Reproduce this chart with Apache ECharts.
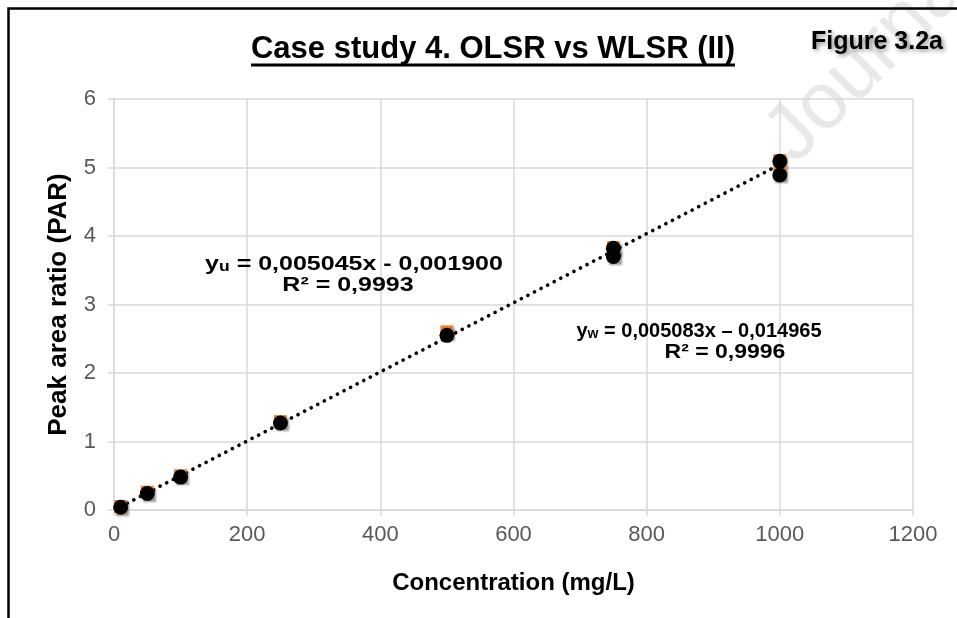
<!DOCTYPE html>
<html>
<head>
<meta charset="utf-8">
<script src="https://cdn.jsdelivr.net/npm/echarts@6/dist/echarts.min.js"></script>
<style>
  html, body { margin: 0; padding: 0; background: #fff; }
  #chart { width: 957px; height: 618px; }
</style>
</head>
<body>
<div id="chart"></div>
<script>
// data
const conc = [10, 50, 100, 250, 500, 750, 750, 1000, 1000]
const parOlsr = [0.05, 0.26, 0.50, 1.29, 2.60, 3.83, 3.72, 5.10, 4.91]
const parWlsr = [0.04, 0.24, 0.48, 1.27, 2.55, 3.82, 3.70, 5.09, 4.89]
// trend line end points
const trendX = [10, 1000]
const trendY = [0.049, 5.043]
// tick labels
const xTicks = [0, 200, 400, 600, 800, 1000, 1200]
const yTicks = [0, 1, 2, 3, 4, 5, 6]

const FONT = "'Liberation Sans', Arial, sans-serif"
const GRID = '#d9d9d9'

const pairs = (xs, ys) => xs.map((x, i) => [x, ys[i]])

const axisBase = {
  type: 'value',
  axisLine: { show: true, lineStyle: { color: GRID, width: 1.5 } },
  axisTick: { show: true, length: 6, lineStyle: { color: GRID, width: 1.5 } },
  splitLine: { show: true, lineStyle: { color: GRID, width: 1.5 } },
  nameLocation: 'middle'
}

const eqRich = {
  b: { fontSize: 20, fontWeight: 'bold', fontFamily: FONT, fill: '#000', lineHeight: 26, verticalAlign: 'bottom' },
  s: { fontSize: 14, fontWeight: 'bold', fontFamily: FONT, fill: '#000', lineHeight: 14, verticalAlign: 'bottom' }
}

const chart = echarts.init(document.getElementById('chart'))
chart.setOption({
  animation: false,
  backgroundColor: '#fff',
  grid: { left: 114, right: 44, top: 99, bottom: 108, outerBoundsMode: 'none' },
  xAxis: {
    ...axisBase,
    min: xTicks[0],
    max: xTicks[xTicks.length - 1],
    interval: xTicks[1] - xTicks[0],
    axisLabel: { fontSize: 22, color: '#595959', margin: 14, fontFamily: FONT, formatter: v => String(v) },
    name: 'Concentration (mg/L)',
    nameGap: 61,
    nameTextStyle: { fontSize: 24, fontWeight: 'bold', color: '#000', fontFamily: FONT }
  },
  yAxis: {
    ...axisBase,
    min: yTicks[0],
    max: yTicks[yTicks.length - 1],
    interval: yTicks[1] - yTicks[0],
    axisLabel: { fontSize: 22, color: '#595959', margin: 18, fontFamily: FONT, formatter: v => String(v) },
    name: 'Peak area ratio (PAR)',
    nameGap: 42,
    nameTextStyle: { fontSize: 26, fontWeight: 'bold', color: '#000', fontFamily: FONT }
  },
  series: [
    {
      type: 'line',
      data: pairs(trendX, trendY),
      symbol: 'none',
      lineStyle: { color: '#000', width: 3.6, type: [0.1, 7.3], cap: 'round' },
      z: 1
    },
    {
      type: 'scatter',
      data: pairs(conc, parOlsr),
      symbol: 'rect',
      symbolSize: 13,
      itemStyle: {
        color: '#ED7D31',
        opacity: 1,
        shadowColor: 'rgba(0,0,0,0.4)',
        shadowBlur: 2,
        shadowOffsetX: 2,
        shadowOffsetY: 3
      },
      z: 2
    },
    {
      type: 'scatter',
      data: pairs(conc, parWlsr),
      symbol: 'circle',
      symbolSize: 15,
      itemStyle: { color: '#000', opacity: 1 },
      z: 3
    }
  ],
  graphic: [
    {
      type: 'text', x: 808, y: 178, rotation: Math.PI / 4, z: -10, silent: true,
      style: { text: 'Journal Pre-proof', fontSize: 80, fontFamily: FONT, fill: '#e8e8e8', verticalAlign: 'bottom' }
    },
    {
      type: 'rect', z: 100, silent: true,
      shape: { x: 8.5, y: 8.5, width: 1000, height: 700 },
      style: { fill: null, stroke: '#000', lineWidth: 2.5 }
    },
    {
      type: 'text', x: 493, y: 49, z: 100,
      style: { text: 'Case study 4. OLSR vs WLSR (II)', fontSize: 31, fontWeight: 'bold', fontFamily: FONT, fill: '#000', align: 'center', verticalAlign: 'middle' }
    },
    {
      type: 'line', z: 100,
      shape: { x1: 251, y1: 65, x2: 735, y2: 65 },
      style: { stroke: '#000', lineWidth: 3 }
    },
    {
      type: 'text', x: 877, y: 42, z: 100,
      style: {
        text: 'Figure 3.2a', fontSize: 25, fontWeight: 'bold', fontFamily: FONT, fill: '#000',
        align: 'center', verticalAlign: 'middle',
        textShadowColor: 'rgba(0,0,0,0.45)', textShadowBlur: 4, textShadowOffsetX: 2, textShadowOffsetY: 2
      }
    },
    {
      type: 'text', x: 354, y: 261, scaleX: 1.25, z: 100,
      style: { text: '{b|y}{s|u}{b| = 0,005045x - 0,001900}', rich: eqRich, align: 'center', verticalAlign: 'middle' }
    },
    {
      type: 'text', x: 348, y: 285, scaleX: 1.25, z: 100,
      style: { text: 'R² = 0,9993', fontSize: 20, fontWeight: 'bold', fontFamily: FONT, fill: '#000', align: 'center', verticalAlign: 'middle' }
    },
    {
      type: 'text', x: 699, y: 328, z: 100,
      style: { text: '{b|y}{s|w}{b| = 0,005083x – 0,014965}', rich: eqRich, align: 'center', verticalAlign: 'middle' }
    },
    {
      type: 'text', x: 725, y: 352, scaleX: 1.15, z: 100,
      style: { text: 'R² = 0,9996', fontSize: 20, fontWeight: 'bold', fontFamily: FONT, fill: '#000', align: 'center', verticalAlign: 'middle' }
    }
  ]
})
</script>
</body>
</html>
